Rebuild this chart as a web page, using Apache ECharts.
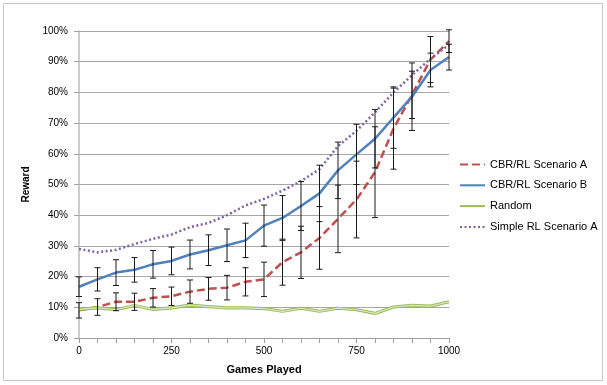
<!DOCTYPE html>
<html>
<head>
<meta charset="utf-8">
<script src="https://cdn.jsdelivr.net/npm/echarts@6/dist/echarts.min.js"></script>
<style>
  html, body { margin: 0; padding: 0; background: #fff; }
  #chart { width: 607px; height: 385px; }
</style>
</head>
<body>
<div id="chart"></div>
<script>
// Games played (x) for every sampled point
const games = [0, 50, 100, 150, 200, 250, 300, 350, 400, 450, 500, 550, 600, 650, 700, 750, 800, 850, 900, 950, 1000];

// Reward in percent
const cbrA = [9.0, 10.1, 11.8, 11.8, 13.1, 13.6, 15.1, 16.0, 16.4, 18.3, 19.1, 24.7, 27.9, 32.6, 38.8, 45.1, 54.0, 68.2, 79.2, 90.7, 96.7];
const cbrAErr = [2.5, 2.7, 2.9, 2.8, 3.0, 3.0, 3.8, 3.7, 4.0, 4.6, 5.6, 7.5, 8.5, 10.2, 11.0, 12.5, 14.8, 13.2, 7.7, 7.5, 3.7];

const cbrB = [16.7, 19.1, 21.3, 22.2, 24.0, 25.1, 27.2, 28.6, 30.2, 31.8, 36.6, 39.1, 43.0, 47.1, 54.6, 59.8, 64.9, 71.8, 78.6, 87.3, 91.5];
const cbrBErr = [3.2, 3.8, 4.2, 4.0, 4.5, 4.5, 4.7, 5.0, 5.3, 5.6, 6.7, 7.3, 8.0, 9.2, 9.2, 9.8, 9.5, 10.0, 11.0, 5.5, 4.2];

const randomPlay = [9.3, 9.8, 9.2, 10.6, 9.3, 9.8, 10.7, 10.2, 9.8, 9.8, 9.6, 8.7, 9.7, 8.7, 9.7, 9.2, 8.0, 10.1, 10.6, 10.4, 11.8];

const simpleRL = [29.0, 27.9, 28.7, 30.6, 32.3, 33.7, 36.1, 37.5, 40.0, 43.2, 45.3, 48.0, 51.1, 55.0, 62.5, 67.5, 73.5, 80.0, 85.6, 91.0, 95.5];

const seriesNames = ['CBR/RL Scenario A', 'CBR/RL Scenario B', 'Random', 'Simple RL Scenario A'];

const pairs = vals => games.map((g, i) => [g, vals[i]]);
const errRows = (vals, errs) => games.map((g, i) => [g, vals[i] - errs[i], vals[i] + errs[i]]);

// Vertical error bar with small caps at both ends
function renderErrorBar(params, api) {
  const x = api.value(0);
  const top = api.coord([x, api.value(2)]);
  const bot = api.coord([x, api.value(1)]);
  const cap = 3;
  const style = { stroke: '#1a1a1a', lineWidth: 1 };
  return {
    type: 'group',
    children: [
      { type: 'line', shape: { x1: top[0], y1: top[1], x2: bot[0], y2: bot[1] }, style },
      { type: 'line', shape: { x1: top[0] - cap, y1: top[1], x2: top[0] + cap, y2: top[1] }, style },
      { type: 'line', shape: { x1: bot[0] - cap, y1: bot[1], x2: bot[0] + cap, y2: bot[1] }, style }
    ]
  };
}

const chart = echarts.init(document.getElementById('chart'), null, { renderer: 'canvas' });

const font = 'Liberation Sans, Arial, sans-serif';

chart.setOption({
  animation: false,
  backgroundColor: '#ffffff',
  textStyle: { fontFamily: font },
  graphic: [{
    type: 'rect',
    shape: { x: 3.5, y: 3.5, width: 599, height: 377 },
    style: { fill: 'none', stroke: '#c8c8c8', lineWidth: 1 },
    silent: true,
    z: -1
  }],
  grid: { left: 79, right: 158, top: 31, bottom: 47, containLabel: false },
  legend: {
    orient: 'vertical',
    left: 454,
    top: 154,
    itemWidth: 25,
    itemHeight: 12,
    itemGap: 9.8,
    data: seriesNames,
    itemStyle: { opacity: 0 },
    textStyle: { fontSize: 11, color: '#000', fontFamily: font }
  },
  xAxis: {
    type: 'value',
    min: 0,
    max: 1000,
    interval: 50,
    name: 'Games Played',
    nameLocation: 'middle',
    nameGap: 26,
    nameTextStyle: { fontSize: 11, fontWeight: 'bold', color: '#000', fontFamily: font },
    axisLine: { show: true, lineStyle: { color: '#a0a0a0', width: 1 } },
    axisTick: { show: true, inside: false, length: 5, lineStyle: { color: '#a0a0a0' } },
    axisLabel: {
      fontSize: 10,
      color: '#000',
      margin: 8,
      formatter: v => (v % 250 === 0 ? String(v) : '')
    },
    splitLine: { show: false }
  },
  yAxis: {
    type: 'value',
    min: 0,
    max: 100,
    interval: 10,
    name: 'Reward',
    nameLocation: 'middle',
    nameGap: 43,
    nameRotate: 90,
    nameTextStyle: { fontSize: 10, fontWeight: 'bold', color: '#000', fontFamily: font },
    axisLine: { show: true, lineStyle: { color: '#bcbcbc', width: 1.5 } },
    axisTick: { show: true, inside: false, length: 5, lineStyle: { color: '#a0a0a0' } },
    axisLabel: { fontSize: 10, color: '#000', margin: 11, formatter: '{value}%' },
    splitLine: { show: true, lineStyle: { color: '#a6a6a6', width: 1 } }
  },
  series: [
    {
      name: 'CBR/RL Scenario A',
      type: 'line',
      data: pairs(cbrA),
      symbol: 'none',
      z: 3,
      color: '#c0504d',
      lineStyle: { color: '#c0504d', width: 2.5, type: [8, 4] }
    },
    {
      name: 'CBR/RL Scenario B',
      type: 'line',
      data: pairs(cbrB),
      symbol: 'none',
      z: 3,
      color: '#4f81bd',
      lineStyle: { color: '#4f81bd', width: 2.5 }
    },
    {
      name: 'Random',
      type: 'line',
      data: pairs(randomPlay),
      symbol: 'none',
      z: 3,
      color: '#9bbb59',
      lineStyle: { color: '#9bbb59', width: 3.2 }
    },
    {
      // light core of the double green line
      name: 'Random core',
      type: 'line',
      data: pairs(randomPlay),
      symbol: 'none',
      z: 4,
      silent: true,
      lineStyle: { color: '#dbe8c3', width: 1.2 }
    },
    {
      name: 'Simple RL Scenario A',
      type: 'line',
      data: pairs(simpleRL),
      symbol: 'none',
      z: 3,
      color: '#8064a2',
      lineStyle: { color: '#8064a2', width: 2.5, type: [2, 2.5] }
    },
    {
      name: 'A error',
      type: 'custom',
      renderItem: renderErrorBar,
      data: errRows(cbrA, cbrAErr),
      encode: { x: 0, y: [1, 2] },
      clip: false,
      silent: true,
      z: 5
    },
    {
      name: 'B error',
      type: 'custom',
      renderItem: renderErrorBar,
      data: errRows(cbrB, cbrBErr),
      encode: { x: 0, y: [1, 2] },
      clip: false,
      silent: true,
      z: 5
    }
  ]
});
</script>
</body>
</html>
